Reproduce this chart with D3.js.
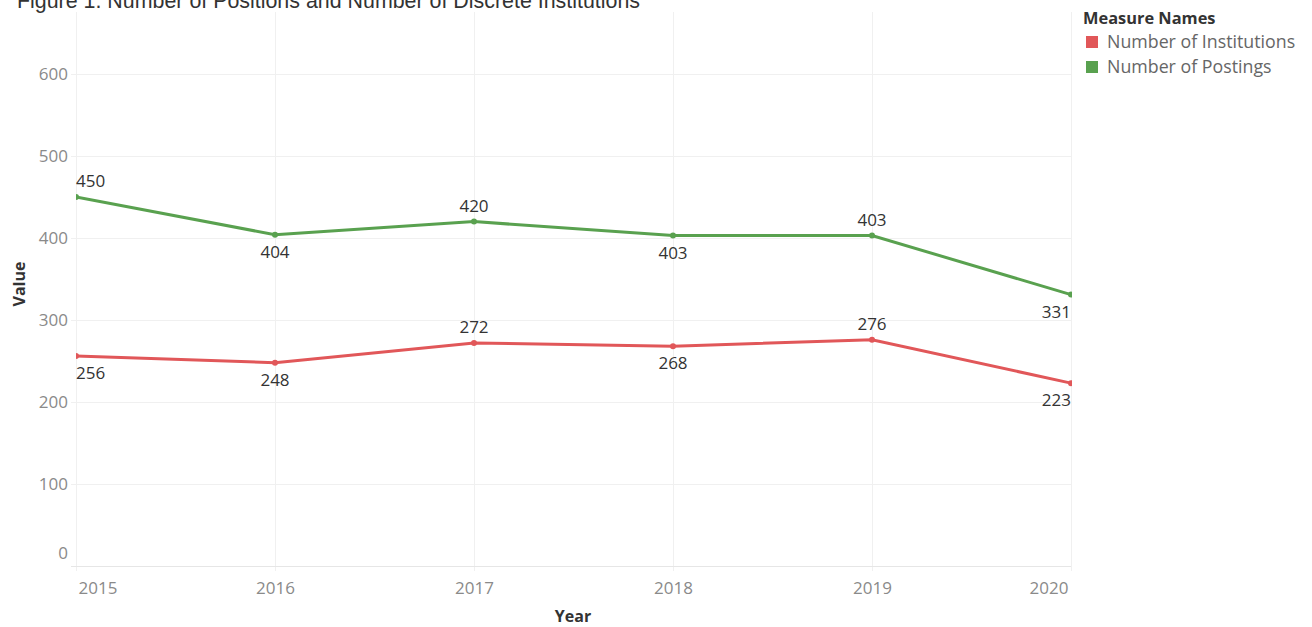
<!DOCTYPE html>
<html>
<head>
<meta charset="utf-8">
<script src="https://cdn.jsdelivr.net/npm/d3@7"></script>
<style>
  body { margin: 0; background: #fff; }
  svg { display: block; }
</style>
</head>
<body>
<div id="chart"></div>
<script>
const years = [2015, 2016, 2017, 2018, 2019, 2020]
const institutions = [256, 248, 272, 268, 276, 223]
const postings = [450, 404, 420, 403, 403, 331]
const yTicks = [0, 100, 200, 300, 400, 500, 600]
const seriesNames = ['Number of Institutions', 'Number of Postings']

// which side each data label sits on (-1 above, 1 below)
const institutionsSide = [1, 1, -1, 1, -1, 1]
const postingsSide = [-1, 1, -1, 1, -1, 1]

const width = 1312
const height = 627
const plot = { left: 76, right: 1071, top: 12, bottom: 566 }

const colors = ['#e15759', '#59a14f']
const font = '"Open Sans", sans-serif'

const svg = d3.select('#chart')
  .append('svg')
  .attr('width', width)
  .attr('height', height)

const x = d3.scalePoint()
  .domain(years)
  .range([plot.left, plot.right])
const y = d3.scaleLinear()
  .domain([0, 600])
  .range([plot.bottom, plot.bottom - 492])

// title (cut off at the top like the source)
svg.append('text')
  .attr('x', 17)
  .attr('y', 8)
  .attr('font-family', '"Liberation Sans", Arial, sans-serif')
  .attr('font-size', 21.4)
  .attr('fill', '#333')
  .text('Figure 1. Number of Positions and Number of Discrete Institutions')

// grid
const grid = svg.append('g')
grid.selectAll('.hg')
  .data(yTicks.filter(d => d > 0))
  .join('line')
  .attr('x1', plot.left - 5)
  .attr('x2', plot.right)
  .attr('y1', d => Math.round(y(d)) + 0.5)
  .attr('y2', d => Math.round(y(d)) + 0.5)
  .attr('stroke', '#f0f0f0')
grid.selectAll('.vg')
  .data(years)
  .join('line')
  .attr('x1', d => Math.round(x(d)) + 0.5)
  .attr('x2', d => Math.round(x(d)) + 0.5)
  .attr('y1', plot.top)
  .attr('y2', plot.bottom + 5)
  .attr('stroke', '#f0f0f0')
grid.append('line')
  .attr('x1', plot.left - 5)
  .attr('x2', plot.right)
  .attr('y1', plot.bottom + 0.5)
  .attr('y2', plot.bottom + 0.5)
  .attr('stroke', '#e6e6e6')

// y axis labels
const yAxis = svg.append('g')
  .attr('transform', `translate(${plot.left - 8},0)`)
  .call(d3.axisLeft(y).tickValues(yTicks).tickSize(0).tickPadding(0))
yAxis.select('.domain').remove()
yAxis.selectAll('text')
  .attr('font-family', font)
  .attr('font-size', 17)
  .attr('fill', '#8a8a8a')
  .attr('dy', d => d === 0 ? '-0.45em' : '0.35em')

// x axis labels
const xAxis = svg.append('g')
  .attr('transform', `translate(0,${plot.bottom})`)
  .call(d3.axisBottom(x).tickSize(0).tickPadding(0).tickFormat(d3.format('d')))
xAxis.select('.domain').remove()
xAxis.selectAll('text')
  .attr('font-family', font)
  .attr('font-size', 17)
  .attr('fill', '#8a8a8a')
  .attr('y', 28)
  .attr('dy', 0)
  .attr('text-anchor', (d, i) => i === 0 ? 'start' : i === years.length - 1 ? 'end' : 'middle')
  .attr('dx', (d, i) => i === 0 ? 2 : i === years.length - 1 ? -3 : 0)

// axis titles
svg.append('text')
  .attr('transform', 'translate(25,284) rotate(-90)')
  .attr('text-anchor', 'middle')
  .attr('font-family', font)
  .attr('font-size', 16)
  .attr('font-weight', 'bold')
  .attr('fill', '#333')
  .text('Value')
svg.append('text')
  .attr('x', 573)
  .attr('y', 622)
  .attr('text-anchor', 'middle')
  .attr('font-family', font)
  .attr('font-size', 16)
  .attr('font-weight', 'bold')
  .attr('fill', '#333')
  .text('Year')

// lines
svg.append('clipPath').attr('id', 'clip')
  .append('rect')
  .attr('x', plot.left)
  .attr('y', 0)
  .attr('width', plot.right - plot.left + 1)
  .attr('height', height)

const series = [
  { name: seriesNames[0], values: institutions, side: institutionsSide, color: colors[0] },
  { name: seriesNames[1], values: postings, side: postingsSide, color: colors[1] }
]

const line = d3.line()
  .x((d, i) => x(years[i]))
  .y(d => y(d))

const marks = svg.append('g').attr('clip-path', 'url(#clip)')
series.forEach(s => {
  marks.append('path')
    .attr('d', line(s.values))
    .attr('fill', 'none')
    .attr('stroke', s.color)
    .attr('stroke-width', 3)
  marks.selectAll(null)
    .data(s.values)
    .join('circle')
    .attr('cx', (d, i) => x(years[i]))
    .attr('cy', d => y(d))
    .attr('r', 3)
    .attr('fill', s.color)
})

// data labels
series.forEach(s => {
  svg.append('g').selectAll('text')
    .data(s.values)
    .join('text')
    .attr('x', (d, i) => x(years[i]))
    .attr('y', (d, i) => y(d) + (s.side[i] < 0 ? -10 : 23))
    .attr('text-anchor', (d, i) => i === 0 ? 'start' : i === years.length - 1 ? 'end' : 'middle')
    .attr('font-family', font)
    .attr('font-size', 17)
    .attr('fill', '#333')
    .text(d => d)
})

// legend
const legend = svg.append('g').attr('transform', 'translate(1083,0)')
legend.append('text')
  .attr('x', 0)
  .attr('y', 24)
  .attr('font-family', font)
  .attr('font-size', 16.4)
  .attr('font-weight', 'bold')
  .attr('fill', '#333')
  .text('Measure Names')
const item = legend.selectAll('.item')
  .data(seriesNames)
  .join('g')
  .attr('transform', (d, i) => `translate(0,${36 + i * 25})`)
item.append('rect')
  .attr('x', 3)
  .attr('y', 0)
  .attr('width', 12)
  .attr('height', 12)
  .attr('fill', (d, i) => colors[i])
item.append('text')
  .attr('x', 24)
  .attr('y', 12)
  .attr('font-family', font)
  .attr('font-size', 17.8)
  .attr('fill', '#666')
  .text(d => d)
</script>
</body>
</html>
